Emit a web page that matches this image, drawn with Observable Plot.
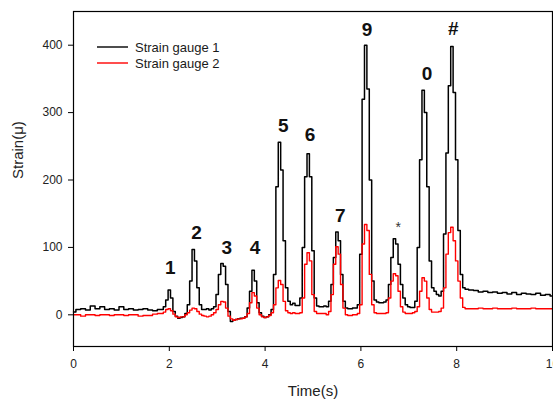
<!DOCTYPE html>
<html><head><meta charset="utf-8">
<script src="https://cdn.jsdelivr.net/npm/d3@7"></script>
<script src="https://cdn.jsdelivr.net/npm/@observablehq/plot@0.6"></script>
<style>html,body{margin:0;padding:0;background:#fff;overflow:hidden}</style>
</head><body><div id="chart"></div><script>
// Sample times (s)
const time = [
  0,0.1,0.2,0.3,0.4,0.5,0.6,0.7,0.8,0.9,1.0,1.1,1.2,1.3,1.4,1.5,1.6,1.7,1.8,
  1.85,1.9,1.95,2.0,2.05,2.1,2.15,2.2,2.25,2.3,2.35,2.4,2.45,2.5,2.55,2.6,2.65,2.7,2.75,2.8,2.85,2.9,2.95,
  3.0,3.05,3.1,3.15,3.2,3.25,3.3,3.35,3.4,3.45,3.5,3.55,3.6,3.65,3.7,3.75,3.8,3.85,3.9,3.95,
  4.0,4.05,4.1,4.15,4.2,4.25,4.3,4.35,4.4,4.45,4.5,4.55,4.6,4.65,4.7,4.75,4.8,4.85,4.9,4.95,
  5.0,5.05,5.1,5.15,5.2,5.25,5.3,5.35,5.4,5.45,5.5,5.55,5.6,5.65,5.7,5.75,5.8,5.85,5.9,5.95,
  6.0,6.05,6.1,6.15,6.2,6.25,6.3,6.35,6.4,6.45,6.5,6.55,6.6,6.65,6.7,6.75,6.8,6.85,6.9,6.95,
  7.0,7.05,7.1,7.15,7.2,7.25,7.3,7.35,7.4,7.45,7.5,7.55,7.6,7.65,7.7,7.75,7.8,7.85,7.9,7.95,
  8.0,8.05,8.1,8.15,8.2,
  8.3,8.4,8.5,8.6,8.7,8.8,8.9,9.0,9.1,9.2,9.3,9.4,9.5,9.6,9.7,9.8,9.9,10.0
];
// Strain gauge 1 (black)
const gauge1 = [
  4,8,9,7,13,9,12,8,9,7,12,8,9,7,8,9,7,6,8,
  8,12,22,37,25,5,-2,-5,-4,-3,2,15,50,97,80,40,15,8,8,9,7,9,12,
  30,60,76,72,45,5,-10,-8,-7,-6,-5,-5,-3,10,35,66,50,18,3,-2,
  -4,-3,0,8,60,190,256,215,110,40,20,15,17,14,14,25,100,205,239,205,
  95,25,13,12,12,13,12,20,45,85,123,110,60,20,10,9,9,10,10,15,
  90,320,400,335,200,50,22,19,18,18,19,22,45,85,113,105,75,45,25,15,
  12,11,11,20,100,230,333,300,190,80,40,35,30,28,35,120,240,340,398,330,
  230,125,60,40,38,
  37,36,34,35,33,34,32,33,31,33,30,32,31,30,32,29,30,28
];
// Strain gauge 2 (red)
const gauge2 = [
  0,0,-2,0,0,-1,0,0,-1,0,0,-1,0,0,-2,-1,-1,1,2,
  2,4,8,9,6,1,-3,-4,-3,-3,0,3,7,10,9,5,1,-1,-2,-3,-2,0,3,
  8,15,20,19,10,-2,-6,-8,-7,-6,-6,-5,-3,2,18,33,28,10,0,-3,
  -4,-3,-1,3,15,40,51,45,20,6,3,2,3,2,2,3,25,75,92,80,
  30,5,2,2,2,2,0,5,30,75,101,90,45,10,0,-1,-1,0,0,2,
  15,105,134,125,60,15,3,2,2,2,2,3,25,50,61,58,35,12,4,2,
  2,2,3,5,12,35,55,50,25,8,4,4,4,5,10,40,90,122,130,110,
  80,50,25,11,9,
  9,9,10,9,9,10,9,9,9,10,9,9,9,10,9,9,9,9
];
// Peak annotations
const peakLabels = ["1","2","3","4","5","6","7","9","*","0","#"];
const peakTimes = [2.02,2.57,3.2,3.79,4.38,4.94,5.57,6.13,6.78,7.38,7.93];
const peakHeights = [70,122,100,100,281,267,147,422,130,358,424];
// Axes
const xTicks = [0,2,4,6,8,10];
const yTicks = [0,100,200,300,400];
const xLabel = "Time(s)";
const yLabel = "Strain(\u03bc)";
const legendLabels = ["Strain gauge 1","Strain gauge 2"];
const legendColors = ["#000000","#ff0000"];

const FONT = "'Liberation Sans', Arial, Helvetica, sans-serif";
const data1 = time.map((t,i)=>({t, v: gauge1[i]}));
const data2 = time.map((t,i)=>({t, v: gauge2[i]}));
const peaks = peakLabels.map((s,i)=>({s, t: peakTimes[i], v: peakHeights[i]}));

function legendMark(index, scales, values, dimensions) {
  const g = d3.create("svg:g").attr("font-family", FONT).attr("font-size", 13).attr("text-anchor", "start");
  legendLabels.forEach((label, i) => {
    const y = dimensions.marginTop + 36 + i * 16;
    g.append("line")
      .attr("x1", dimensions.marginLeft + 24).attr("x2", dimensions.marginLeft + 55)
      .attr("y1", y).attr("y2", y)
      .attr("stroke", legendColors[i]).attr("stroke-width", 1.4);
    g.append("text")
      .attr("x", dimensions.marginLeft + 62).attr("y", y).attr("dy", "0.35em")
      .attr("text-anchor", "start")
      .attr("fill", "#1a1a1a").text(label);
  });
  return g.node();
}

const chart = Plot.plot({
  width: 553, height: 405,
  marginLeft: 73, marginRight: 1, marginTop: 11, marginBottom: 59,
  style: {fontFamily: FONT, background: "#fff", color: "#000"},
  x: {domain: [0, 10], label: null},
  y: {domain: [-47, 450], label: null},
  marks: [
    Plot.axisX({ticks: xTicks, tickSize: 5, tickPadding: 8, fontSize: 12, label: null, fill: "#222"}),
    Plot.axisY({ticks: yTicks, tickSize: 5, tickPadding: 6, fontSize: 12, label: null, fill: "#222"}),
    Plot.line(data1, {x: "t", y: "v", curve: "step", stroke: "#000", strokeWidth: 1.5}),
    Plot.line(data2, {x: "t", y: "v", curve: "step", stroke: "#ff0000", strokeWidth: 1.4}),
    Plot.frame({stroke: "#000", strokeWidth: 1.2}),
    Plot.text(peaks.filter(d => d.s !== "*"), {x: "t", y: "v", text: "s", fontSize: 19, fontWeight: "bold", fill: "#111"}),
    Plot.text(peaks.filter(d => d.s === "*"), {x: "t", y: "v", text: "s", fontSize: 14, fill: "#333"}),
    Plot.text([xLabel], {text: d => d, frameAnchor: "bottom", dy: 49, fontSize: 15, fill: "#222"}),
    Plot.text([yLabel], {text: d => d, frameAnchor: "left", dx: -55, rotate: -90, fontSize: 15, fill: "#222"}),
    legendMark
  ]
});
document.getElementById("chart").appendChild(chart);
</script></body></html>
